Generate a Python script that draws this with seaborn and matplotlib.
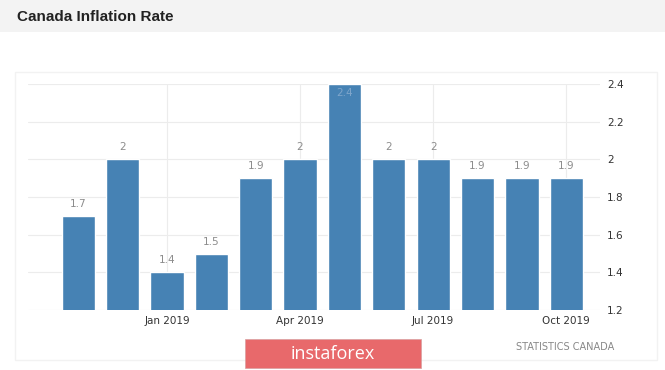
import numpy as np
import pandas as pd
import matplotlib
matplotlib.use("Agg")
import matplotlib.pyplot as plt
import seaborn as sns
from matplotlib.patches import Rectangle

months = ["Nov 2018", "Dec 2018", "Jan 2019", "Feb 2019", "Mar 2019", "Apr 2019",
          "May 2019", "Jun 2019", "Jul 2019", "Aug 2019", "Sep 2019", "Oct 2019"]
rates = [1.7, 2.0, 1.4, 1.5, 1.9, 2.0, 2.4, 2.0, 2.0, 1.9, 1.9, 1.9]
tick_months = ["Jan 2019", "Apr 2019", "Jul 2019", "Oct 2019"]
y_ticks = [1.2, 1.4, 1.6, 1.8, 2.0, 2.2, 2.4]

df = pd.DataFrame({"month": months, "rate": rates})

sns.set_style("white")
plt.rcParams['font.family'] = ['DejaVu Sans']

fig = plt.figure(figsize=(6.65, 3.7), dpi=100)
fig.patch.set_facecolor("white")

# header strip
fig.patches.append(Rectangle((0, 1 - 32 / 370), 1, 32 / 370, transform=fig.transFigure,
                             facecolor="#f3f3f3", edgecolor="none", zorder=0))
fig.text(17 / 665, 1 - 17 / 370, "Canada Inflation Rate", fontsize=11, fontweight="bold",
         family=["Liberation Sans", "DejaVu Sans"], color="#222222", va="center", ha="left")

# faint panel border
fig.patches.append(Rectangle((15 / 665, 1 - 360 / 370), 642 / 665, 288 / 370,
                             transform=fig.transFigure, facecolor="none",
                             edgecolor="#f2f2f2", lw=1, zorder=0))

ax = fig.add_axes([28 / 665, 1 - 310 / 370, 572 / 665, 226 / 370])
sns.barplot(data=df, x="month", y="rate", order=months, color="#4682b4",
            saturation=1, width=0.75, ax=ax, zorder=2)

ax.set_ylim(1.2, 2.4)
ax.set_xlim(-1.13, 11.76)
ax.yaxis.tick_right()
ax.set_yticks(y_ticks)
ax.set_yticklabels([f"{v:g}" for v in y_ticks])
ax.set_xticks([months.index(m) for m in tick_months])
ax.set_xticklabels(tick_months)
ax.tick_params(axis="both", length=0, labelsize=7.5, colors="#333333")
ax.tick_params(axis="y", pad=5)
ax.tick_params(axis="x", pad=4)
ax.grid(True, color="#ececec", lw=0.8, zorder=0)
ax.set_axisbelow(True)
for s in ax.spines.values():
    s.set_visible(False)
ax.set_xlabel("")
ax.set_ylabel("")

labels = [f"{v:g}" for v in rates]
texts = ax.bar_label(ax.containers[0], labels=labels, padding=5, color="#8c8c8c", fontsize=7.5)
for t, v in zip(texts, rates):
    if v >= 2.4:
        t.xyann = (0, -10)
        t.set_color("#7fa6cb")

# watermark and source
fig.patches.append(Rectangle((245 / 665, 1 - 368 / 370), 176 / 665, 29 / 370,
                             transform=fig.transFigure, facecolor="#e8696b",
                             edgecolor="#d9a0a0", lw=0.5, zorder=3))
fig.text(333 / 665, 1 - 354 / 370, "instaforex", color="white", fontsize=13,
         ha="center", va="center", family=["Open Sans", "DejaVu Sans"], zorder=4)
fig.text(614 / 665, 1 - 347 / 370, "STATISTICS CANADA", color="#888888", fontsize=7,
         ha="right", va="center")

fig.savefig("out.png", dpi=100)
